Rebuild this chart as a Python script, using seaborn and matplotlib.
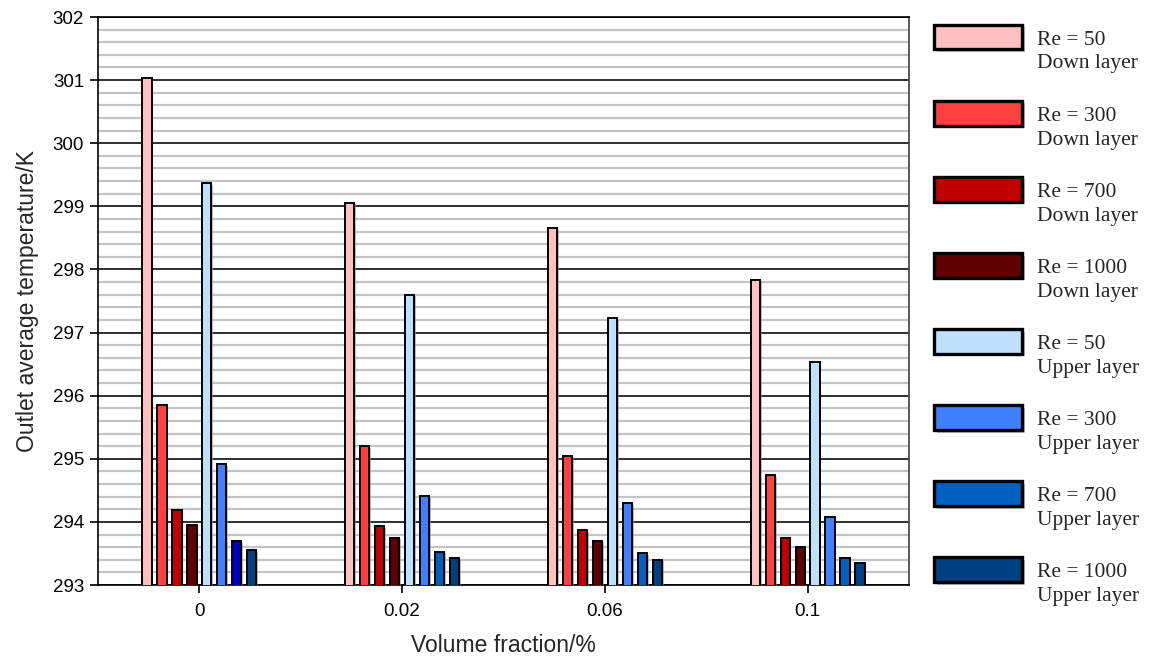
import numpy as np
import pandas as pd
import matplotlib
matplotlib.use("Agg")
import matplotlib.pyplot as plt
import matplotlib.patheffects as pe
from matplotlib.patches import Rectangle
from matplotlib.legend_handler import HandlerPatch
from matplotlib.ticker import MultipleLocator
import seaborn as sns

# Volume fractions (x categories)
fractions = ["0", "0.02", "0.06", "0.1"]

# Outlet average temperature (K) per Reynolds number and layer
down_re50 = [301.03, 299.06, 298.65, 297.84]
down_re300 = [295.86, 295.20, 295.05, 294.74]
down_re700 = [294.19, 293.93, 293.87, 293.75]
down_re1000 = [293.95, 293.75, 293.70, 293.61]
upper_re50 = [299.37, 297.60, 297.23, 296.54]
upper_re300 = [294.91, 294.41, 294.30, 294.07]
upper_re700 = [293.69, 293.53, 293.50, 293.42]
upper_re1000 = [293.55, 293.43, 293.40, 293.35]

series_labels = [
    "Re = 50\nDown layer", "Re = 300\nDown layer",
    "Re = 700\nDown layer", "Re = 1000\nDown layer",
    "Re = 50\nUpper layer", "Re = 300\nUpper layer",
    "Re = 700\nUpper layer", "Re = 1000\nUpper layer",
]
series_values = [down_re50, down_re300, down_re700, down_re1000,
                 upper_re50, upper_re300, upper_re700, upper_re1000]
series_colors = ["#FFC0C0", "#FF4040", "#C00000", "#600000",
                 "#C0E0FF", "#4080FF", "#0060C0", "#004080"]

records = []
for label, vals in zip(series_labels, series_values):
    for frac, v in zip(fractions, vals):
        records.append({"fraction": frac, "series": label, "temperature": v})
df = pd.DataFrame(records)

sns.set_style("white")
plt.rcParams["font.family"] = ["Liberation Sans", "DejaVu Sans"]

fig = plt.figure(figsize=(11.5, 6.61), dpi=100)
ax = fig.add_axes([98 / 1150, 1 - 585 / 661, (909 - 98) / 1150, (585 - 17) / 661])

sns.barplot(data=df, x="fraction", y="temperature", hue="series",
            order=fractions, hue_order=series_labels,
            palette=dict(zip(series_labels, series_colors)),
            width=0.59, gap=0.38, edgecolor="black", linewidth=1.4,
            saturation=1, legend=False, ax=ax, zorder=3)

# the Re = 700 upper-layer bar at zero fraction is drawn in a deeper blue
ax.containers[6][0].set_facecolor("#0000C0")

shadow = [pe.SimplePatchShadow(offset=(1.2, -1.2), shadow_rgbFace="#909090", alpha=0.6),
          pe.Normal()]
for p in ax.patches:
    p.set_path_effects(shadow)

ax.set_ylim(293, 302)
ax.set_xlim(-0.5, 3.5)
ax.yaxis.set_major_locator(MultipleLocator(1))
ax.yaxis.set_minor_locator(MultipleLocator(0.2))
ax.set_axisbelow(True)
ax.grid(axis="y", which="minor", color="#C4C4C4", linewidth=1.6, zorder=0)
ax.grid(axis="y", which="major", color="#202020", linewidth=1.3, zorder=1)
ax.grid(axis="x", visible=False)

for s in ax.spines.values():
    s.set_visible(True)
    s.set_color("black")
    s.set_linewidth(1.2)
ax.spines["right"].set_color("#404040")

ax.tick_params(axis="y", which="major", direction="out", length=6, width=1.2,
               labelsize=13.5, pad=4, left=True, colors="black")
ax.tick_params(axis="y", which="minor", length=0)
ax.tick_params(axis="x", direction="out", length=6, width=1.2,
               labelsize=13.5, pad=7, bottom=True, colors="black")

ax.set_xlabel("Volume fraction/%", fontsize=16.5, labelpad=10)
ax.set_ylabel("Outlet average temperature/K", fontsize=16.5, labelpad=10)


def legend_box(legend, orig_handle, xdescent, ydescent, width, height, fontsize):
    return Rectangle((-xdescent, -ydescent + 0.7 * fontsize), width, height)


handles = [Rectangle((0, 0), 1, 1, facecolor=c, edgecolor="black", linewidth=2.4)
           for c in series_colors]
leg = fig.legend(handles, series_labels, loc="upper left",
                 bbox_to_anchor=(934 / 1150, 1 - 31 / 661),
                 frameon=False, borderpad=0, borderaxespad=0,
                 handlelength=4.1, handleheight=1.4, handletextpad=0.7,
                 labelspacing=1.56,
                 prop={"family": ["Liberation Serif", "DejaVu Serif"], "size": 15.5},
                 handler_map={Rectangle: HandlerPatch(patch_func=legend_box)})
for t in leg.get_texts():
    t.set_linespacing(1.32)
for p in leg.get_patches():
    p.set_path_effects([pe.SimplePatchShadow(offset=(2, -2), shadow_rgbFace="#A0A0A0", alpha=0.7),
                        pe.Normal()])

fig.savefig("out.png", dpi=100)
